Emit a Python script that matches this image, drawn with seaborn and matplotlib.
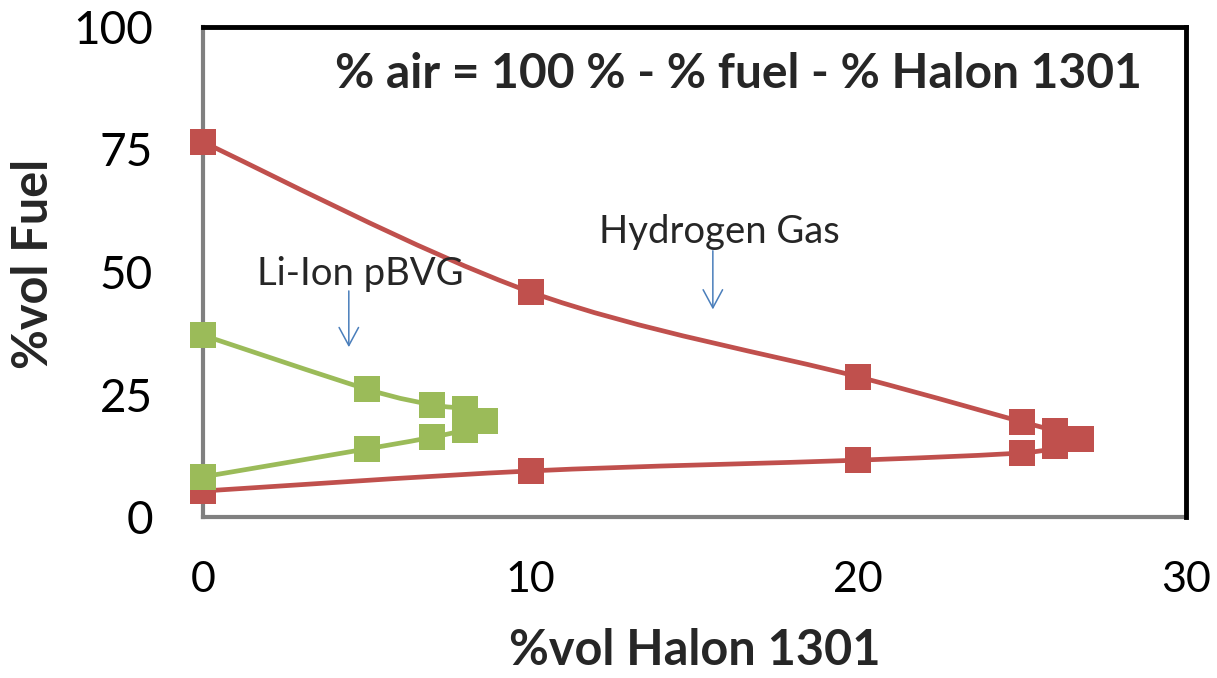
import numpy as np
import matplotlib
matplotlib.use("Agg")
import matplotlib.pyplot as plt
from matplotlib.path import Path
from matplotlib.patches import PathPatch
import seaborn as sns

# ── data ──
halon_h2 = [0, 10, 20, 25, 26, 26.8, 26, 25, 20, 10, 0]
fuel_h2  = [76.5, 45.9, 28.6, 19.4, 17.6, 15.9, 14.5, 13.1, 11.6, 9.4, 5.3]

halon_li = [0, 5, 7, 8, 8.6, 8, 7, 5, 0]
fuel_li  = [37.1, 26.1, 22.9, 22.0, 19.6, 17.8, 16.3, 13.9, 8.2]

x_ticks = [0, 10, 20, 30]
y_ticks = [0, 25, 50, 75, 100]

RED   = "#C0504D"
GREEN = "#9BBB59"
ARROW = "#4A7EBB"


def smooth_path(xs, ys):
    # Excel-style smoothed line (Catmull-Rom as cubic Bezier)
    pts = np.column_stack([xs, ys]).astype(float)
    n = len(pts)
    verts = [pts[0]]
    codes = [Path.MOVETO]
    for i in range(n - 1):
        p0 = pts[i - 1] if i > 0 else pts[i]
        p1 = pts[i]
        p2 = pts[i + 1]
        p3 = pts[i + 2] if i + 2 < n else pts[i + 1]
        verts += [p1 + (p2 - p0) / 6, p2 - (p3 - p1) / 6, p2]
        codes += [Path.CURVE4] * 3
    return Path(verts, codes)


sns.set_theme(style="white")
plt.rcParams["font.family"] = ["Lato", "DejaVu Sans"]

fig = plt.figure(figsize=(12.17, 6.78), dpi=100)
ax = fig.add_axes([203 / 1217, 1 - 517 / 678, 983 / 1217, 490 / 678])

# hydrogen series
ax.add_patch(PathPatch(smooth_path(halon_h2, fuel_h2), fill=False,
                       edgecolor=RED, lw=3.4, capstyle="round",
                       zorder=2, clip_on=False))
sns.scatterplot(x=halon_h2, y=fuel_h2, ax=ax, marker="s", s=350,
                color=RED, edgecolor="none", linewidth=0, zorder=3,
                clip_on=False)

# li-ion series
ax.add_patch(PathPatch(smooth_path(halon_li, fuel_li), fill=False,
                       edgecolor=GREEN, lw=3.4, capstyle="round",
                       zorder=4, clip_on=False))
sns.scatterplot(x=halon_li, y=fuel_li, ax=ax, marker="s", s=350,
                color=GREEN, edgecolor="none", linewidth=0, zorder=5,
                clip_on=False)

ax.set_xlim(0, 30)
ax.set_ylim(0, 100)
ax.set_xticks(x_ticks)
ax.set_yticks(y_ticks)
ax.tick_params(axis="both", direction="in", length=15, width=2.2,
               color="#808080", labelcolor="black")
ax.tick_params(axis="x", pad=32, labelsize=31)
ax.tick_params(axis="y", pad=36, labelsize=33)

for side in ["left", "bottom"]:
    ax.spines[side].set_color("#808080")
    ax.spines[side].set_linewidth(3)
    ax.spines[side].set_zorder(1)
for side in ["top", "right"]:
    ax.spines[side].set_color("black")
    ax.spines[side].set_linewidth(3.5)

ax.set_xlabel("%vol Halon 1301", fontsize=35, fontweight="bold")
ax.xaxis.set_label_coords(0.5, (517 - 665) / 490)
ax.xaxis.label.set_va("baseline")
ax.set_ylabel("%vol Fuel", fontsize=35, fontweight="bold")
ax.yaxis.set_label_coords((34 - 203) / 983, 0.516)
ax.yaxis.label.set_va("center")

# annotations
ax.text(4.03, 87.6, "% air = 100 % - % fuel - % Halon 1301",
        fontsize=34.5, fontweight="bold", ha="left", va="baseline")
ax.text(12.1, 55.9, "Hydrogen Gas", fontsize=27.5, ha="left", va="baseline")
ax.text(1.65, 47.3, "Li-Ion pBVG", fontsize=27.5, ha="left", va="baseline")

arrow_kw = dict(arrowstyle="->,head_width=0.35,head_length=0.65",
                color=ARROW, lw=1.1, mutation_scale=20)
ax.annotate("", xy=(15.56, 41.8), xytext=(15.56, 54.9), arrowprops=arrow_kw)
ax.annotate("", xy=(4.45, 34.1), xytext=(4.45, 46.7), arrowprops=arrow_kw)

fig.savefig("out.png", dpi=100)
